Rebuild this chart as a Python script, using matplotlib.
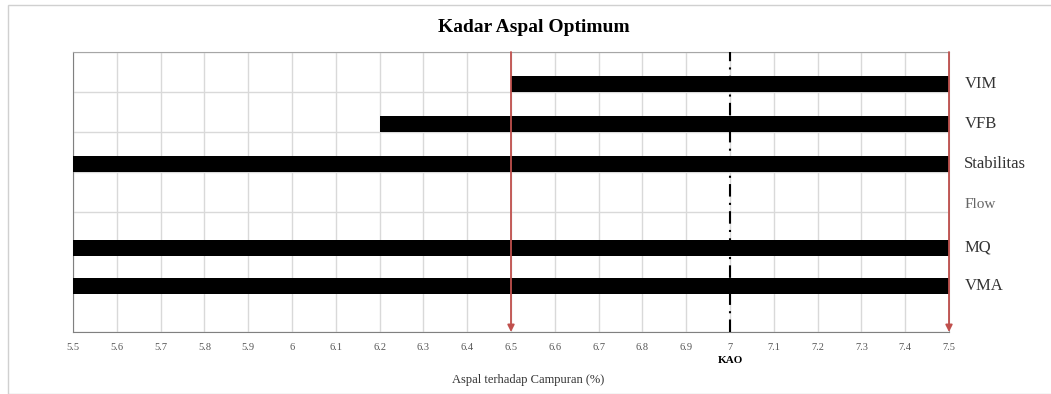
import numpy as np
import matplotlib.pyplot as plt
from matplotlib.patches import Rectangle

# Parameter dan rentang kadar aspal yang memenuhi syarat
params = ["VMA", "MQ", "Flow", "Stabilitas", "VFB", "VIM"]
y_pos = [1.15, 2.1, 3.2, 4.2, 5.2, 6.2]
start = [5.5, 5.5, np.nan, 5.5, 6.2, 6.5]
end = [7.5, 7.5, np.nan, 7.5, 7.5, 7.5]

x_ticks = [5.5, 5.6, 5.7, 5.8, 5.9, 6.0, 6.1, 6.2, 6.3, 6.4, 6.5,
           6.6, 6.7, 6.8, 6.9, 7.0, 7.1, 7.2, 7.3, 7.4, 7.5]
x_ticklabels = ["5.5", "5.6", "5.7", "5.8", "5.9", "6", "6.1", "6.2", "6.3", "6.4", "6.5",
                "6.6", "6.7", "6.8", "6.9", "7", "7.1", "7.2", "7.3", "7.4", "7.5"]
batas = [6.5, 7.5]
kao = 7.0

plt.rcParams['font.family'] = ['Liberation Serif', 'DejaVu Serif']

fig = plt.figure(figsize=(10.51, 3.94), dpi=100)
ax = fig.add_axes([73 / 1051, 1 - 332 / 394, 876 / 1051, 280 / 394])

# bingkai luar grafik
fig.patches.append(Rectangle((8 / 1051, 0), 1.2, 1 - 5 / 394, transform=fig.transFigure,
                             fill=False, edgecolor="#d0d0d0", lw=1))

ax.set_xlim(5.5, 7.5)
ax.set_ylim(0, 7)
ax.set_xticks(x_ticks)
ax.set_xticklabels(x_ticklabels, fontsize=7.5, color="#555555")
ax.set_yticks(range(8))
ax.set_yticklabels([])
ax.tick_params(length=0, pad=8)
ax.grid(True, color="#d9d9d9", lw=1)
ax.set_axisbelow(True)
for s in ax.spines.values():
    s.set_color("#a6a6a6")
ax.spines['bottom'].set_color("#808080")
ax.spines['left'].set_color("#808080")

for y, a, b in zip(y_pos, start, end):
    if not np.isnan(a):
        ax.barh(y, b - a, left=a, height=0.4, color="black", zorder=3)

for y, p in zip(y_pos, params):
    col = "#666666" if p == "Flow" else "#333333"
    fs = 11 if p == "Flow" else 12
    ax.text(7.5 + 0.035, y, p, fontsize=fs, va="center", ha="left", color=col)

# garis KAO
ax.axvline(kao, color="black", lw=1.5, ls=(0, (6, 3, 1, 3)), zorder=4)
ax.text(kao, -0.72, "KAO", fontsize=8, fontweight="bold", ha="center", va="center")

# batas kadar aspal (panah merah)
for x in batas:
    ax.annotate("", xy=(x, 0), xytext=(x, 7),
                arrowprops=dict(arrowstyle="-|>", color="#c0504d", lw=1.3,
                                mutation_scale=10, shrinkA=0, shrinkB=0),
                zorder=5, annotation_clip=False)

fig.text(534 / 1051, 1 - 28 / 394, "Kadar Aspal Optimum", fontsize=14,
         fontweight="bold", ha="center", va="center")
fig.text(528 / 1051, 1 - 380 / 394, "Aspal terhadap Campuran (%)", fontsize=9,
         color="#333333", ha="center", va="center")

fig.savefig("out.png", dpi=100)
